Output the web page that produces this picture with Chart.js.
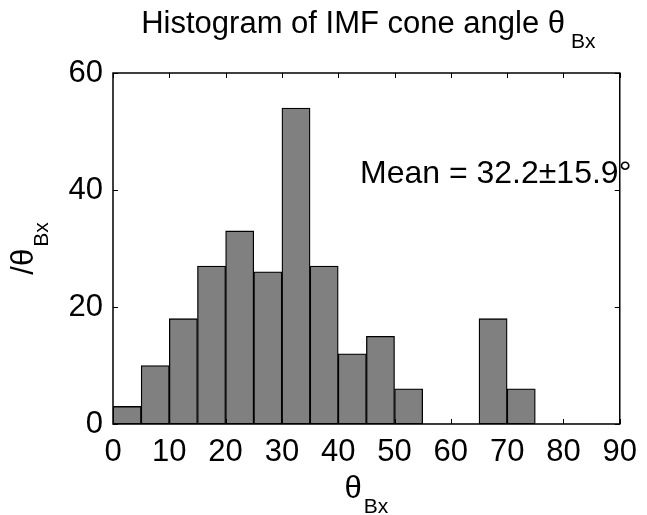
<!DOCTYPE html>
<html><head><meta charset="utf-8">
<script src="https://cdn.jsdelivr.net/npm/chart.js@4"></script>
<style>html,body{margin:0;padding:0;background:#fff}#wrap{width:647px;height:515px}</style>
</head><body><div id="wrap"><canvas id="c" width="647" height="515"></canvas></div>
<script>
// ---- data ----
const binStarts = [0,5,10,15,20,25,30,35,40,45,50,55,60,65,70,75,80,85];
const counts    = [3,10,18,27,33,26,54,27,12,15,6,0,0,18,6,0,0,0];
const binWidth  = 5;
const xTicks = [0,10,20,30,40,50,60,70,80,90];
const yTicks = [0,20,40,60];
const titleMain = 'Histogram of IMF cone angle θ';
const titleSub  = 'Bx';
const xLabelMain = 'θ', xLabelSub = 'Bx';
const yLabelMain = '/θ', yLabelSub = 'Bx';
const meanText = 'Mean = 32.2±15.9°';

const FONT = "'Liberation Sans', Arial, Helvetica, sans-serif";
const MAIN = 31, SUB = 21;

function drawSub(ctx, main, sub, cx, y, gap) {
  ctx.font = MAIN + 'px ' + FONT;
  const w1 = ctx.measureText(main).width;
  ctx.font = SUB + 'px ' + FONT;
  const w2 = ctx.measureText(sub).width;
  const x0 = cx - (w1 + w2 + gap) / 2;
  ctx.textAlign = 'left'; ctx.textBaseline = 'alphabetic';
  ctx.font = MAIN + 'px ' + FONT;
  ctx.fillText(main, x0, y);
  ctx.font = SUB + 'px ' + FONT;
  ctx.fillText(sub, x0 + w1 + gap, y + 15);
}

const decor = {
  id: 'decor',
  afterDraw(chart) {
    const ctx = chart.ctx, a = chart.chartArea;
    const xs = chart.scales.x, ys = chart.scales.y;
    ctx.save();
    ctx.strokeStyle = '#000'; ctx.lineWidth = 1.5;
    ctx.strokeRect(a.left, a.top, a.right - a.left, a.bottom - a.top);
    ctx.lineWidth = 1;
    const tl = 5;
    ctx.beginPath();
    xs.ticks.forEach(t => {
      const px = Math.round(xs.getPixelForValue(t.value)) + 0.5;
      ctx.moveTo(px, a.bottom); ctx.lineTo(px, a.bottom - tl);
      ctx.moveTo(px, a.top); ctx.lineTo(px, a.top + tl);
    });
    ys.ticks.forEach(t => {
      const py = Math.round(ys.getPixelForValue(t.value)) + 0.5;
      ctx.moveTo(a.left, py); ctx.lineTo(a.left + tl, py);
      ctx.moveTo(a.right, py); ctx.lineTo(a.right - tl, py);
    });
    ctx.stroke();
    ctx.fillStyle = '#000';
    const cx = (a.left + a.right) / 2;
    // title
    drawSub(ctx, titleMain, titleSub, cx + 2, 33, 6);
    // x label
    drawSub(ctx, xLabelMain, xLabelSub, cx, 498, 2);
    // y label
    ctx.save();
    ctx.translate(33, (a.top + a.bottom) / 2);
    ctx.rotate(-Math.PI / 2);
    drawSub(ctx, yLabelMain, yLabelSub, 0, 0, 2);
    ctx.restore();
    // mean annotation
    ctx.font = '32px ' + FONT;
    ctx.textAlign = 'left'; ctx.textBaseline = 'alphabetic';
    ctx.fillText(meanText, 360, 183);
    ctx.restore();
  }
};

new Chart(document.getElementById('c'), {
  type: 'bar',
  data: {
    datasets: [{
      data: binStarts.map((s, i) => ({ x: s + binWidth / 2, y: counts[i] })),
      backgroundColor: '#808080',
      borderColor: '#000',
      borderWidth: ctx => (counts[ctx.dataIndex] > 0 ? 1.3 : 0),
      barPercentage: 1,
      categoryPercentage: 1,
      borderSkipped: false
    }]
  },
  options: {
    responsive: false,
    animation: false,
    devicePixelRatio: 1,
    layout: { padding: { top: 73, right: 20, left: 0, bottom: 0 } },
    plugins: { legend: { display: false }, tooltip: { enabled: false }, title: { display: false } },
    scales: {
      x: {
        type: 'linear', min: 0, max: 90, offset: false,
        grid: { display: false, drawTicks: false },
        border: { display: false },
        afterBuildTicks: s => { s.ticks = xTicks.map(v => ({ value: v })); },
        afterFit: s => { s.height = 91; },
        ticks: { color: '#000', font: { size: MAIN, family: FONT }, padding: 10, maxRotation: 0, autoSkip: false }
      },
      y: {
        min: 0, max: 60,
        grid: { display: false, drawTicks: false },
        border: { display: false },
        afterBuildTicks: s => { s.ticks = yTicks.map(v => ({ value: v })); },
        afterFit: s => { s.width = 113; },
        ticks: { color: '#000', font: { size: MAIN, family: FONT }, padding: 10 }
      }
    }
  },
  plugins: [decor]
});
</script>
</body></html>
